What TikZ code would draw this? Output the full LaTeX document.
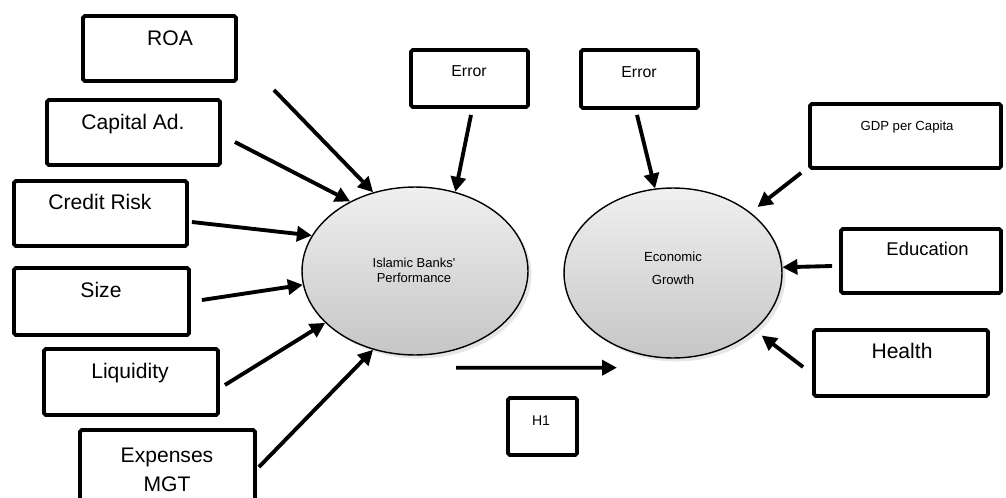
\documentclass[tikz,border=0pt]{standalone}
\usepackage{fontspec}
\setmainfont{Liberation Sans}
\usetikzlibrary{arrows.meta,calc,shapes.geometric,shadows}

\begin{document}
\begin{tikzpicture}[x=0.02cm,y=-0.02cm,
    box/.style={draw,line width=2.2pt,rounded corners=1pt,inner sep=0pt},
    txt/.style={inner sep=0pt,text height=1.5ex,text depth=.25ex},
    big/.style={txt,font=\fontsize{12}{14}\selectfont},
    latent/.style={ellipse,draw,line width=0.8pt,inner sep=0pt,
      top color=gray!12,bottom color=gray!45,
      drop shadow={opacity=0.2,shadow xshift=2pt,shadow yshift=-2pt}},
    arr/.style={line width=2.2pt,-{Triangle[length=8.5pt,width=8.5pt]}}]
  \useasboundingbox (0,0) rectangle (1006,497);

  % latent variables
  \node[latent,minimum width=4.52cm,minimum height=3.36cm] (ibp) at (415,271) {};
  \node[align=center,inner sep=0pt,font=\fontsize{7.4}{8.5}\selectfont] (ibptxt) at (414,270.5) {Islamic Banks\textquotesingle\\Performance};
  \node[latent,minimum width=4.36cm,minimum height=3.4cm] (eg) at (673,273) {};
  \node[align=center,inner sep=0pt,font=\fontsize{7.5}{13}\selectfont] (egtxt) at (673,268.5) {Economic\\Growth};

  % indicators of the banks
  \node[box,minimum width=3.06cm,minimum height=1.3cm] (roa) at (159.5,48.5) {};
  \node[big] (roatxt) at (170,40) {ROA};
  \node[box,minimum width=3.46cm,minimum height=1.3cm] (cap) at (133.5,132.5) {};
  \node[big] (captxt) at (133,124) {Capital Ad.};
  \node[box,minimum width=3.46cm,minimum height=1.3cm] (cred) at (100.5,213.5) {};
  \node[big] (credtxt) at (100,204) {Credit Risk};
  \node[box,minimum width=3.5cm,minimum height=1.34cm] (size) at (101.5,301.5) {};
  \node[big] (sizetxt) at (101,292) {Size};
  \node[box,minimum width=3.48cm,minimum height=1.32cm] (liq) at (131,382) {};
  \node[big] (liqtxt) at (130,373) {Liquidity};
  \node[box,minimum width=3.5cm,minimum height=1.6cm] (exp) at (167.5,470) {};
  \node[align=center,inner sep=0pt,font=\fontsize{12}{16.5}\selectfont] (exptxt) at (167,469.5) {Expenses\\MGT};

  % errors
  \node[box,minimum width=2.34cm,minimum height=1.14cm] (err1) at (469.5,78.5) {};
  \node[txt,font=\fontsize{9}{11}\selectfont] (err1txt) at (469,71) {Error};
  \node[box,minimum width=2.34cm,minimum height=1.16cm] (err2) at (639.5,79) {};
  \node[txt,font=\fontsize{9}{11}\selectfont] (err2txt) at (639,72) {Error};

  % indicators of growth
  \node[box,minimum width=3.82cm,minimum height=1.28cm] (gdp) at (905.5,136) {};
  \node[txt,font=\fontsize{7.5}{9}\selectfont] (gdptxt) at (907,125) {GDP per Capita};
  \node[box,minimum width=3.2cm,minimum height=1.28cm] (edu) at (921,261) {};
  \node[txt,font=\fontsize{10.5}{12}\selectfont] (edutxt) at (927.5,250) {Education};
  \node[box,minimum width=3.48cm,minimum height=1.32cm] (hea) at (901,363) {};
  \node[big] (heatxt) at (902,353) {Health};

  % hypothesis
  \node[box,minimum width=1.38cm,minimum height=1.14cm] (h1) at (542.5,426.5) {};
  \node[txt,font=\fontsize{8}{10}\selectfont] (h1txt) at (541,420) {H1};

  \path[arr]
    ($(roa.south east)+(36,7)$) edge (ibp.118)
    ($(cap.east)+(13,9.5)$) edge (ibp.133.5)
    ($(cred.east)+(3,8.5)$) edge (ibp.161.7)
    ($(size.east)+(11,-1.5)$) edge (ibp.187.7)
    ($(liq.east)+(5,3)$) edge (ibp.210)
    ($(exp.east)+(2,-3)$) edge (ibp.242.3)
    ($(err1.south)+(1.5,6)$) edge (ibp.63.4);
  \path[arr]
    ($(err2.south)+(-2.5,5)$) edge (eg.102)
    ($(gdp.south west)+(-7,3)$) edge[shorten >=5pt] (eg.38)
    ($(edu.west)+(-7,5)$) edge (eg.3.7)
    ($(hea.west)+(-9,4)$) edge[shorten >=5pt] (eg.325);
  \path[arr]
    ($(ibp.south)+(41,12)$) edge ($(eg.south)+(-56,9)$);
\end{tikzpicture}
\end{document}
